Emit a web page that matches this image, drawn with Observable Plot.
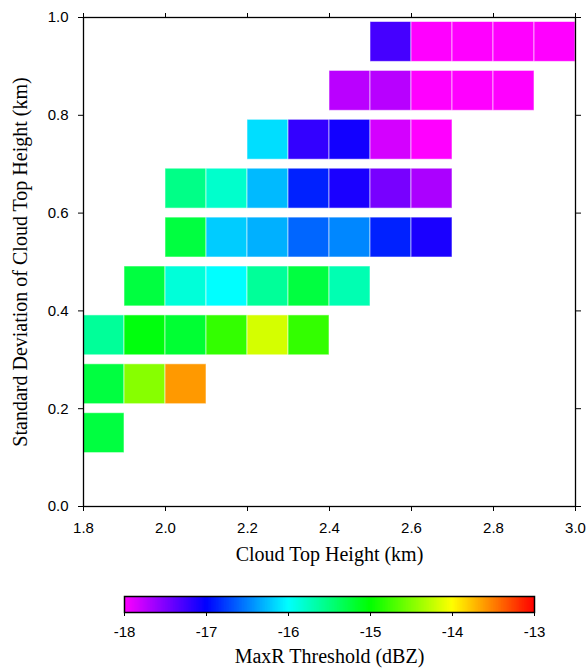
<!DOCTYPE html>
<html>
<head>
<meta charset="utf-8">
<script src="https://cdn.jsdelivr.net/npm/d3@7"></script>
<script src="https://cdn.jsdelivr.net/npm/@observablehq/plot@0.6"></script>
<style>
  html, body { margin: 0; padding: 0; background: #fff; }
  #chart svg { display: block; }
</style>
</head>
<body>
<div id="chart"></div>
<script>
// Lower edge of each standard-deviation bin (km)
const sdBins = [0.1, 0.2, 0.3, 0.4, 0.5, 0.6, 0.7, 0.8, 0.9];
// Lower edge of the first cloud-top-height bin in each row (km)
const rowStart = [1.8, 1.8, 1.8, 1.9, 2.0, 2.0, 2.2, 2.4, 2.5];
// MaxR threshold (dBZ) of consecutive 0.1 km height bins in each row
const rowValues = [
  [-15.25],
  [-15.25, -14.47, -13.6],
  [-15.6, -15.05, -15.2, -14.8, -14.17, -14.8],
  [-15.25, -15.85, -16.0, -15.6, -15.25, -15.7],
  [-15.25, -16.2, -16.31, -16.6, -16.47, -16.87, -17.1],
  [-15.53, -15.8, -16.27, -16.87, -17.1, -17.47, -17.67],
  [-16.13, -17.2, -17.07, -17.83, -18.0],
  [-17.73, -17.72, -18.0, -18.0, -18.0],
  [-17.27, -18.0, -18.0, -18.0, -18.0]
];
const binWidth = 0.1;
const xTicks = [1.8, 2.0, 2.2, 2.4, 2.6, 2.8, 3.0];
const yTicks = [0.0, 0.2, 0.4, 0.6, 0.8, 1.0];
const cbTicks = [-18, -17, -16, -15, -14, -13];
const cbColors = ["#ff00ff", "#0000ff", "#00ffff", "#00ff00", "#ffff00", "#ff0000"];
const xLabel = "Cloud Top Height (km)";
const yLabel = "Standard Deviation of Cloud Top Height (km)";
const cbLabel = "MaxR Threshold (dBZ)";

const cells = [];
sdBins.forEach((sd, r) => {
  rowValues[r].forEach((v, i) => {
    const x1 = rowStart[r] + i * binWidth;
    cells.push({x1, x2: x1 + binWidth, y1: sd, y2: sd + binWidth, value: v});
  });
});

const colorScale = {
  type: "linear",
  domain: cbTicks,
  range: cbColors,
  interpolate: "rgb"
};

const sans = "Liberation Sans, Helvetica, Arial, sans-serif";
const serif = "Liberation Serif, Times New Roman, serif";
const tickFont = {fontFamily: sans, fontSize: 15};
const labelFont = {fontFamily: serif, fontSize: 20, fill: "#000"};

const main = Plot.plot({
  width: 587,
  height: 575,
  marginLeft: 83,
  marginRight: 12,
  marginTop: 17,
  marginBottom: 69,
  style: {fontFamily: sans, fontSize: "15px", color: "#000", background: "#fff"},
  x: {domain: [1.8, 3.0]},
  y: {domain: [0, 1]},
  color: colorScale,
  marks: [
    Plot.rect(cells, {
      x1: "x1", x2: "x2", y1: "y1", y2: "y2",
      fill: "value",
      insetTop: 4.5, insetBottom: 4.5,
      stroke: "white", strokeOpacity: 0.55, strokeWidth: 1
    }),
    Plot.frame({stroke: "black", strokeWidth: 1.3}),
    Plot.axisX({anchor: "bottom", ticks: xTicks, tickSize: 5, tickPadding: 11, tickFormat: d3.format(".1f"), label: null, ...tickFont}),
    Plot.axisX({anchor: "top", ticks: xTicks, tickSize: 5, tickFormat: () => "", label: null}),
    Plot.axisY({anchor: "left", ticks: yTicks, tickSize: 5, tickPadding: 10, tickFormat: d3.format(".1f"), label: null, ...tickFont}),
    Plot.axisY({anchor: "right", ticks: yTicks, tickSize: 5, tickFormat: () => "", label: null}),
    Plot.text([xLabel], {text: d => d, frameAnchor: "bottom", dy: 54, textAnchor: "middle", ...labelFont}),
    Plot.text([yLabel], {text: d => d, frameAnchor: "left", dx: -63, rotate: -90, textAnchor: "middle", ...labelFont})
  ]
});

const step = 0.02;
const ramp = d3.range(cbTicks[0], cbTicks[cbTicks.length - 1], step);

const colorbar = Plot.plot({
  width: 587,
  height: 95,
  marginLeft: 124,
  marginRight: 53,
  marginTop: 21,
  marginBottom: 58,
  style: {fontFamily: sans, fontSize: "15px", color: "#000", background: "#fff"},
  x: {domain: [cbTicks[0], cbTicks[cbTicks.length - 1]]},
  color: colorScale,
  marks: [
    Plot.rect(ramp, {x1: d => d, x2: d => Math.min(d + step * 1.5, -13), fill: d => d + step / 2}),
    Plot.frame({stroke: "black", strokeWidth: 1.5}),
    Plot.axisX({anchor: "bottom", ticks: cbTicks, tickSize: 4, tickPadding: 10, tickFormat: d => String(d), label: null, ...tickFont}),
    Plot.text([cbLabel], {text: d => d, frameAnchor: "bottom", dy: 50, textAnchor: "middle", ...labelFont})
  ]
});

const root = document.getElementById("chart");
root.appendChild(main);
root.appendChild(colorbar);
</script>
</body>
</html>
